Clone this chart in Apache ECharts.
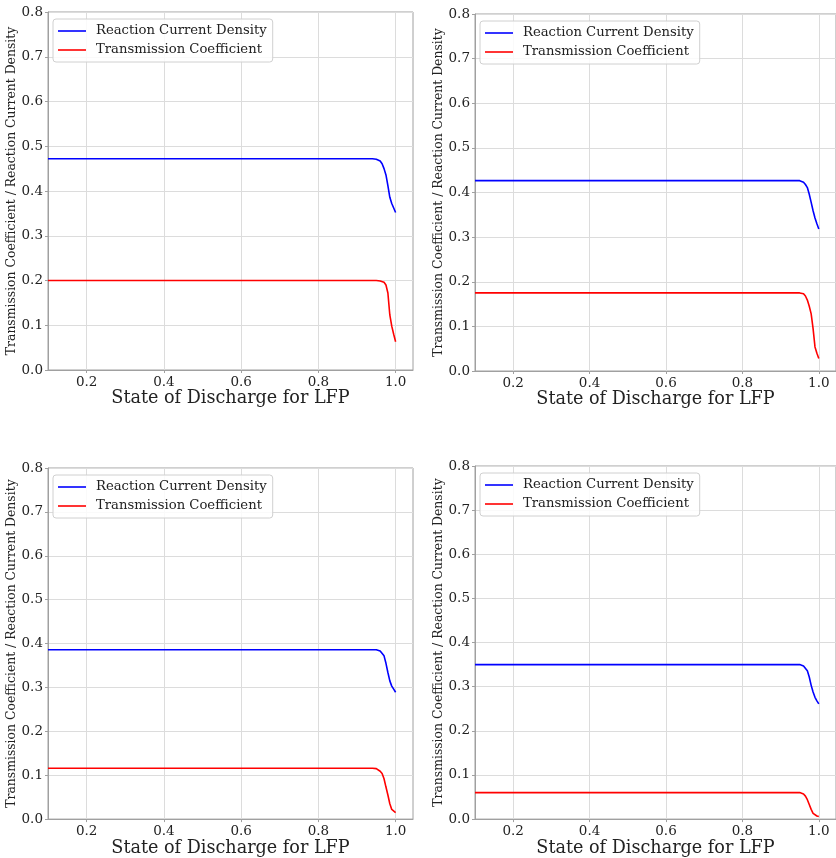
<!DOCTYPE html>
<html>
<head>
<meta charset="utf-8">
<script src="https://cdn.jsdelivr.net/npm/echarts@6/dist/echarts.min.js"></script>
<style>
  html, body { margin: 0; padding: 0; background: #ffffff; }
  #chart { width: 836px; height: 858px; }
</style>
</head>
<body>
<div id="chart"></div>
<script>
// State of discharge sample points (shared by all four panels)
const sod = [0.1, 0.94, 0.95, 0.955, 0.96, 0.965, 0.97, 0.975, 0.98, 0.985, 0.99, 0.995, 1.0];

// Panel 1 (top left)
const current1 = [0.472, 0.472, 0.471, 0.470, 0.467, 0.461, 0.450, 0.436, 0.412, 0.386, 0.372, 0.362, 0.352];
const trans1   = [0.200, 0.200, 0.200, 0.200, 0.199, 0.198, 0.196, 0.190, 0.172, 0.123, 0.098, 0.080, 0.063];

// Panel 2 (top right)
const current2 = [0.4265, 0.4265, 0.4265, 0.425, 0.423, 0.418, 0.411, 0.396, 0.378, 0.359, 0.343, 0.330, 0.318];
const trans2   = [0.175, 0.175, 0.175, 0.175, 0.173, 0.168, 0.159, 0.145, 0.128, 0.095, 0.054, 0.040, 0.028];

// Panel 3 (bottom left)
const current3 = [0.386, 0.386, 0.386, 0.385, 0.383, 0.379, 0.372, 0.355, 0.334, 0.315, 0.303, 0.296, 0.289];
const trans3   = [0.116, 0.116, 0.115, 0.113, 0.109, 0.104, 0.092, 0.073, 0.055, 0.035, 0.022, 0.018, 0.015];

// Panel 4 (bottom right)
const current4 = [0.350, 0.350, 0.350, 0.349, 0.347, 0.343, 0.336, 0.322, 0.303, 0.288, 0.276, 0.268, 0.261];
const trans4   = [0.060, 0.060, 0.060, 0.059, 0.057, 0.052, 0.044, 0.033, 0.022, 0.013, 0.009, 0.007, 0.006];

// Axis ticks
const xTicks = [0.2, 0.4, 0.6, 0.8, 1.0];
const yTicks = [0.0, 0.1, 0.2, 0.3, 0.4, 0.5, 0.6, 0.7, 0.8];

const seriesNames = ['Reaction Current Density', 'Transmission Coefficient'];
const panelData = [[current1, trans1], [current2, trans2], [current3, trans3], [current4, trans4]];

const FONT = 'DejaVu Serif';
const SPINE = '#a0a0a0';
const GRIDLINE = '#dcdcdc';
const TEXT = '#222222';

// Plot-area boxes for the 2x2 layout
const boxes = [
  { left: 48,  top: 12,  width: 365, height: 358 },
  { left: 475, top: 14,  width: 366, height: 357 },
  { left: 48,  top: 468, width: 365, height: 358 },
  { left: 475, top: 466, width: 366, height: 357 }
];

const grid = [], xAxis = [], yAxis = [], series = [], legend = [];

boxes.forEach((b, i) => {
  grid.push(Object.assign({ show: true, borderColor: SPINE, borderWidth: 1, backgroundColor: 'transparent' }, b));

  xAxis.push({
    type: 'value', gridIndex: i, min: 0.1, max: 1.045,
    name: 'State of Discharge for LFP', nameLocation: 'middle', nameGap: 8,
    nameTextStyle: { fontFamily: FONT, fontSize: 17.6, color: TEXT },
    axisLine: { show: true, lineStyle: { color: SPINE } },
    axisTick: { show: true, length: 3, lineStyle: { color: SPINE }, customValues: xTicks },
    axisLabel: { fontFamily: FONT, fontSize: 13.5, color: TEXT, margin: 5,
                 customValues: xTicks, formatter: v => v.toFixed(1) },
    splitLine: { show: true, lineStyle: { color: GRIDLINE, width: 1 } }
  });

  yAxis.push({
    type: 'value', gridIndex: i, min: 0, max: 0.8, interval: 0.1,
    name: 'Transmission Coefficient / Reaction Current Density', nameLocation: 'middle', nameGap: 23,
    nameTextStyle: { fontFamily: FONT, fontSize: 12.4, color: TEXT },
    axisLine: { show: true, lineStyle: { color: SPINE } },
    axisTick: { show: true, length: 3, lineStyle: { color: SPINE } },
    axisLabel: { fontFamily: FONT, fontSize: 13.5, color: TEXT, margin: 5,
                 customValues: yTicks, formatter: v => v.toFixed(1) },
    splitLine: { show: true, lineStyle: { color: GRIDLINE, width: 1 } }
  });

  const colors = ['#0000ff', '#ff0000'];
  panelData[i].forEach((vals, k) => {
    series.push({
      name: seriesNames[k], type: 'line', xAxisIndex: i, yAxisIndex: i,
      showSymbol: false, symbol: 'none', silent: true,
      color: colors[k],
      lineStyle: { width: 1.6, color: colors[k] },
      data: sod.map((x, j) => [x, vals[j]])
    });
  });

  legend.push({
    orient: 'vertical', left: b.left + 5, top: b.top + 7,
    data: seriesNames, icon: 'rect', itemWidth: 28, itemHeight: 1.6, itemGap: 3,
    padding: [4, 6, 4, 5],
    backgroundColor: 'rgba(255,255,255,0.85)', borderColor: '#d0d0d0', borderWidth: 1, borderRadius: 3,
    selectedMode: false,
    textStyle: { fontFamily: FONT, fontSize: 13.2, color: TEXT, lineHeight: 16, padding: [0, 0, 0, 5] }
  });
});

const chart = echarts.init(document.getElementById('chart'), null, { renderer: 'canvas' });
chart.setOption({ animation: false, backgroundColor: '#ffffff', grid, xAxis, yAxis, series, legend });
</script>
</body>
</html>
